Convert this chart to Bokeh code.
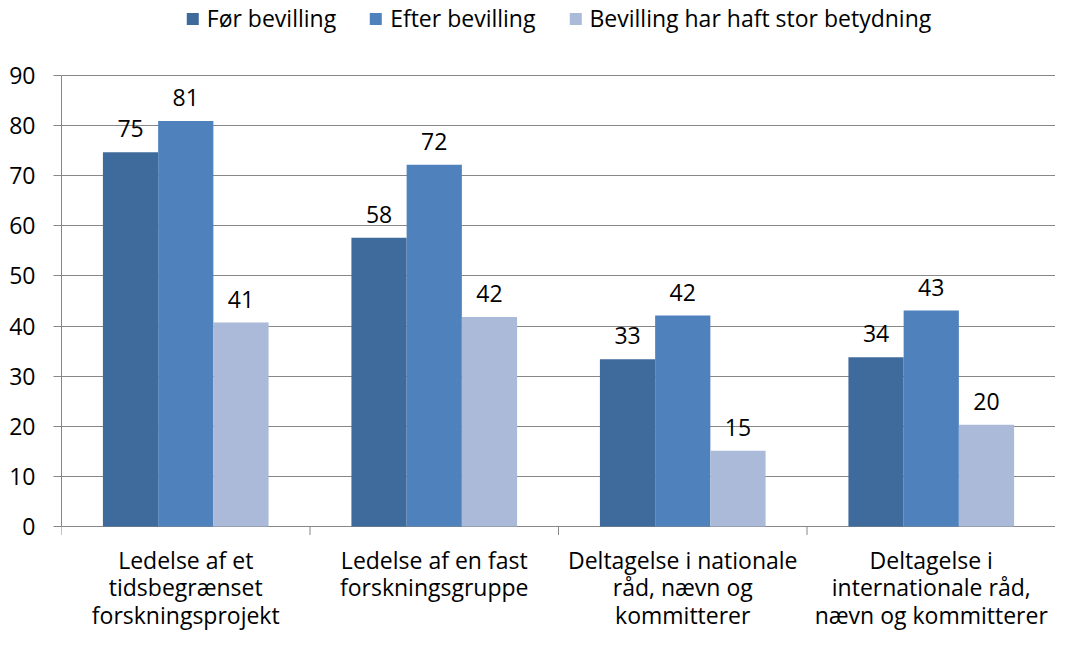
from bokeh.plotting import figure
from bokeh.models import (ColumnDataSource, Range1d, LinearAxis, FixedTicker, Legend, LegendItem, Grid)
from bokeh.embed import file_html
from bokeh.resources import INLINE
from bokeh.core.properties import value

categories = ["Ledelse af et\ntidsbegrænset\nforskningsprojekt",
              "Ledelse af en fast\nforskningsgruppe",
              "Deltagelse i nationale\nråd, nævn og\nkommitterer",
              "Deltagelse i\ninternationale råd,\nnævn og kommitterer"]
series_names = ["Før bevilling", "Efter bevilling", "Bevilling har haft stor betydning"]
for_bevilling = [74.7, 57.6, 33.4, 33.8]
efter_bevilling = [80.9, 72.2, 42.1, 43.1]
stor_betydning = [40.7, 41.8, 15.1, 20.3]
y_ticks = [0, 10, 20, 30, 40, 50, 60, 70, 80, 90]

colors = ["#3F6A9C", "#4F81BD", "#AABAD8"]
FONT = "Open Sans"
FS = "23px"
GRID = "#878787"

p = figure(width=1055, height=632, output_backend="svg", toolbar_location=None,
           x_axis_type=None, y_axis_type=None,
           x_range=Range1d(0, 4), y_range=Range1d(-21.15, 104.57),
           min_border_left=61, min_border_right=0, min_border_top=2, min_border_bottom=0)
p.outline_line_color = None
p.background_fill_color = "white"

w = 1 / 4.5
n = len(categories)
renderers = []
for i, (vals, col) in enumerate(zip([for_bevilling, efter_bevilling, stor_betydning], colors)):
    xs = [c + 0.5 + (i - 1) * w for c in range(n)]
    src = ColumnDataSource(dict(x=xs, top=vals, lab=[str(round(v)) for v in vals]))
    r = p.vbar(x="x", top="top", width=w, source=src, fill_color=col, line_color=None)
    renderers.append(r)
    p.text(x="x", y="top", text="lab", source=src, text_align="center", text_baseline="bottom",
           y_offset=-15, text_font=value(FONT), text_font_size=FS, text_color="black")

# y axis
yax = LinearAxis(ticker=FixedTicker(ticks=y_ticks), bounds=(0, 90))
yax.major_tick_out = 8
yax.major_tick_in = 0
yax.minor_tick_line_color = None
yax.axis_line_color = GRID
yax.major_tick_line_color = GRID
yax.major_label_text_font = FONT
yax.major_label_text_font_size = FS
yax.major_label_text_color = "black"
yax.major_label_standoff = 18
p.add_layout(yax, "left")

g = Grid(dimension=1, ticker=FixedTicker(ticks=y_ticks), grid_line_color=GRID, level="underlay")
p.add_layout(g)

# category separators (tick marks below the baseline)
sep = list(range(n + 1))
p.segment(x0=sep, x1=sep, y0=[0] * len(sep), y1=[-1.7] * len(sep), line_color=GRID, line_width=1)

# category labels
cat_src = ColumnDataSource(dict(x=[c + 0.5 for c in range(n)], y=[0] * n, t=categories))
p.text(x="x", y="y", text="t", source=cat_src, text_align="center", text_baseline="top",
       y_offset=17, text_font=value(FONT), text_font_size=FS, text_color="black",
       text_line_height=0.86)

legend = Legend(items=[LegendItem(label=series_names[i], renderers=[renderers[i]]) for i in range(3)],
                orientation="horizontal", location="top_center",
                label_text_font=FONT, label_text_font_size=FS, label_text_color="black",
                glyph_width=15, glyph_height=15, label_standoff=7, spacing=32,
                border_line_color=None, background_fill_alpha=0, padding=0, margin=0)
p.add_layout(legend, "center")

open("out.html", "w").write(file_html(p, INLINE))
